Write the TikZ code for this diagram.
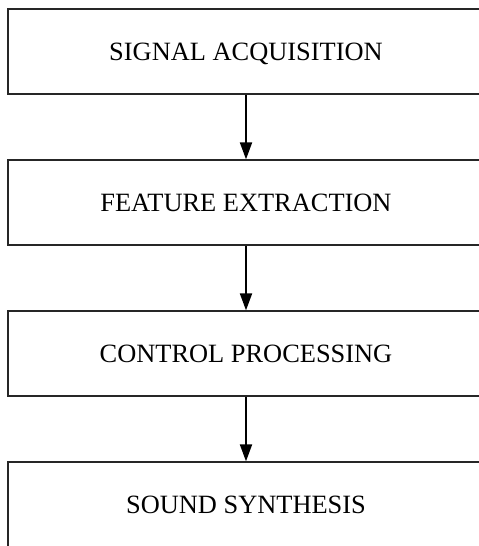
\documentclass[tikz,border=0pt]{standalone}
\usepackage{fontspec}
\setmainfont{Liberation Serif}
\usetikzlibrary{arrows.meta}
\begin{document}
\begin{tikzpicture}[x=1pt,y=1pt,
  stagebox/.style={draw=black!85, line width=1.3pt, rectangle, minimum width=476pt, minimum height=85pt, inner sep=0pt, text height=17.6pt, text depth=0pt, font=\fontsize{26.4}{30}\selectfont},
  flowarrow/.style={line width=2pt, -{Triangle[length=17pt,width=12pt]}}]
\useasboundingbox (0,0) rectangle (479,-546);
\clip (0,0) rectangle (479,-546);
\node[stagebox] (acq) at (246,-51.5) {SIGNAL ACQUISITION};
\node[stagebox] (feat) at (246,-202.5) {FEATURE EXTRACTION};
\node[stagebox] (ctrl) at (246,-353.5) {CONTROL PROCESSING};
\node[stagebox] (synth) at (246,-504.5) {SOUND SYNTHESIS};
\draw[flowarrow] (acq) -- (feat);
\draw[flowarrow] (feat) -- (ctrl);
\draw[flowarrow] (ctrl) -- (synth);
\end{tikzpicture}
\end{document}
